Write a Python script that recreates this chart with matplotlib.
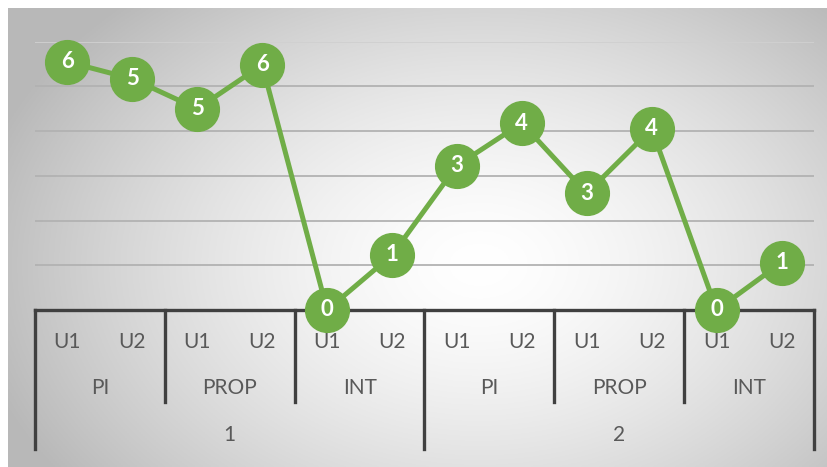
import numpy as np
import matplotlib
matplotlib.use('Agg')
import matplotlib.pyplot as plt
import matplotlib.transforms as mtransforms

plt.rcParams['font.family'] = ['Lato', 'DejaVu Sans']

# data
values = [5.55, 5.17, 4.5, 5.48, 0, 1.23, 3.23, 4.18, 2.61, 4.05, 0, 1.06]
point_labels = ['6', '5', '5', '6', '0', '1', '3', '4', '3', '4', '0', '1']
level1 = ['U1', 'U2'] * 6
level2 = ['PI', 'PROP', 'INT', 'PI', 'PROP', 'INT']
level3 = ['1', '2']

green = '#70AD47'
axis_col = '#404040'
text_col = '#595959'

W, H = 828, 467
fig = plt.figure(figsize=(W / 100, H / 100), dpi=100)

# radial gradient background of the chart area
bg = fig.add_axes([8 / W, 0, 820 / W, 459 / H])
gx, gy = np.meshgrid(np.linspace(8, 828, 400), np.linspace(8, 467, 240))
d = np.sqrt(((gx - 480) / 470) ** 2 + ((gy - 265) / 330) ** 2)
shade = 1 - 0.24 * np.clip(d, 0, 1.1) ** 1.5
bg.imshow(np.dstack([shade] * 3), extent=[0, 1, 0, 1], aspect='auto', origin='upper')
bg.axis('off')

# plot area
left, right, top, bottom = 35, 814, 41.7, 310
ax = fig.add_axes([left / W, 1 - bottom / H, (right - left) / W, (bottom - top) / H])
ax.patch.set_alpha(0)
for s in ax.spines.values():
    s.set_visible(False)
ax.set_xlim(-0.5, len(values) - 0.5)
ax.set_ylim(0, 6)
ax.set_xticks([])
ax.set_yticks([])
for g in range(1, 7):
    ax.axhline(g, color='#B2B2B2' if g < 6 else '#D0D0D0', lw=1.3, zorder=1)

x = np.arange(len(values))
ax.plot(x, values, color=green, lw=3.6, marker='o', markersize=31.5,
        markerfacecolor=green, markeredgecolor=green, clip_on=False, zorder=5)
for xi, v, lab in zip(x, values, point_labels):
    ax.text(xi, v, lab, color='white', fontsize=16, fontweight='bold',
            ha='center', va='center', zorder=6, clip_on=False)

# multi-level category axis
tr = mtransforms.blended_transform_factory(ax.transData, ax.transAxes)
y2 = -(402 - bottom) / (bottom - top)
y3 = -(449 - bottom) / (bottom - top)
n = len(values)
ax.plot([-0.5, n - 0.5], [0, 0], color=axis_col, lw=2.4, transform=tr,
        clip_on=False, zorder=3, solid_capstyle='projecting')
for i in range(len(level2) + 1):
    xb = -0.5 + 2 * i
    yb = y3 if i % 3 == 0 else y2
    ax.plot([xb, xb], [0, yb], color=axis_col, lw=2.4, transform=tr,
            clip_on=False, zorder=3)

yl1 = -(342 - bottom) / (bottom - top)
yl2 = -(388 - bottom) / (bottom - top)
yl3 = -(435 - bottom) / (bottom - top)
for i, lab in enumerate(level1):
    ax.text(i, yl1, lab, transform=tr, ha='center', va='center',
            fontsize=15, color=text_col)
for i, lab in enumerate(level2):
    ax.text(2 * i + 0.5, yl2, lab, transform=tr, ha='center', va='center',
            fontsize=15, color=text_col)
for i, lab in enumerate(level3):
    ax.text(6 * i + 2.5, yl3, lab, transform=tr, ha='center', va='center',
            fontsize=15, color=text_col)

fig.savefig('out.png', dpi=100)
